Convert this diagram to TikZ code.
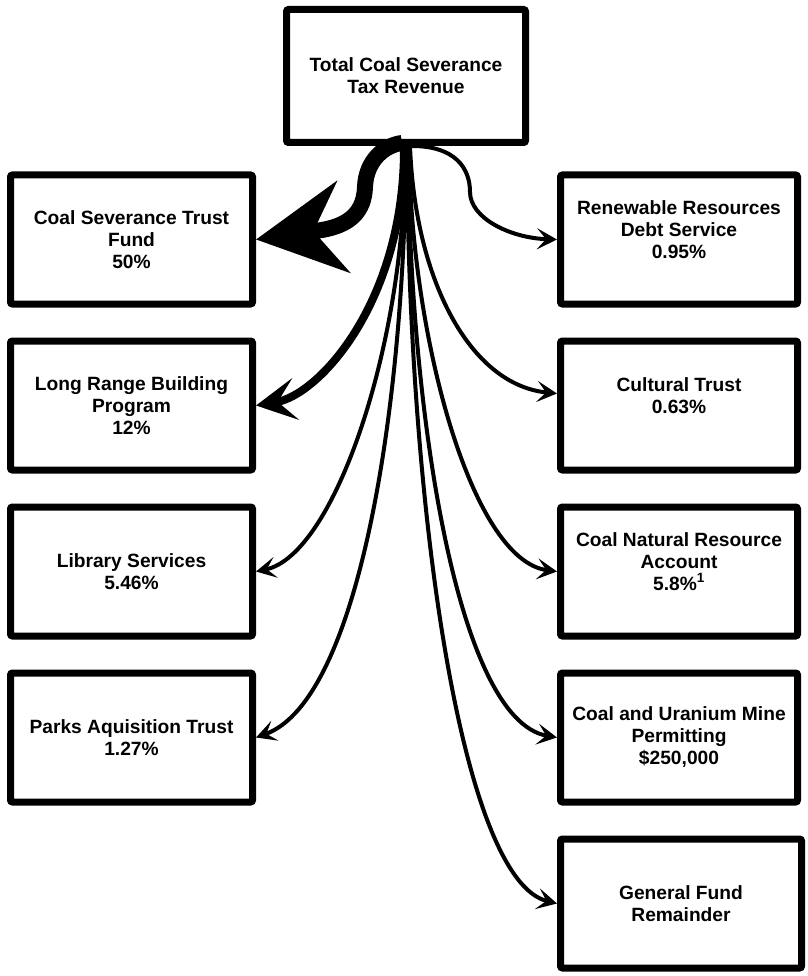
\documentclass[tikz,border=0pt]{standalone}
\usepackage{fontspec}
\setmainfont{Liberation Sans}
\usetikzlibrary{arrows.meta}
\begin{document}
\begin{tikzpicture}[x=1pt,y=-1pt,
  box/.style={draw, line width=7pt, rounded corners=2pt, minimum width=242pt,
    minimum height=129pt, inner sep=0pt, outer sep=3.5pt},
  rbox/.style={box, minimum width=237pt},
  boxtext/.style={font=\fontsize{19.2}{22}\selectfont\bfseries, align=center, inner sep=0pt},
  flow/.style={line width=4pt, -{Stealth[length=20pt,width=21pt,inset=9pt]}},
  midflow/.style={line width=8pt, -{Stealth[length=40pt,width=42pt,inset=18pt]}},
  bigflow/.style={line width=16pt, -{Stealth[length=88pt,width=92pt,inset=30pt]}}]
\useasboundingbox (0,0) rectangle (807,976);

% source box
\node[box, minimum width=239pt, minimum height=133pt] (src) at (406,76) {};
\node[boxtext] (srct) at (src.center) {Total Coal Severance\\Tax Revenue};

% left column
\node[box] (l1) at (131.5,239.5) {};
\node[boxtext] (l1t) at (l1.center) {Coal Severance Trust\\Fund\\50\%};
\node[box] (l2) at (131.5,405.5) {};
\node[boxtext] (l2t) at (l2.center) {Long Range Building\\Program\\12\%};
\node[box] (l3) at (131.5,571.5) {};
\node[boxtext] (l3t) at (l3.center) {Library Services\\5.46\%};
\node[box] (l4) at (131.5,737.5) {};
\node[boxtext] (l4t) at (l4.center) {Parks Aquisition Trust\\1.27\%};

% right column
\node[rbox] (r1) at (679,239.5) {};
\node[boxtext, yshift=10pt] (r1t) at (r1.center) {Renewable Resources\\Debt Service\\0.95\%};
\node[rbox] (r2) at (679,405.5) {};
\node[boxtext, yshift=10pt] (r2t) at (r2.center) {Cultural Trust\\0.63\%};
\node[rbox] (r3) at (679,571.5) {};
\node[boxtext, yshift=10pt] (r3t) at (r3.center) {Coal Natural Resource\\Account\\5.8\%\textsuperscript{1}};
\node[rbox] (r4) at (679,737.5) {};
\node[boxtext] (r4t) at (r4.center) {Coal and Uranium Mine\\Permitting\\\$250,000};
\node[rbox, minimum width=241pt] (r5) at (681,903.5) {};
\node[boxtext] (r5t) at (r5.center) {General Fund\\Remainder};

% distribution arrows
\draw[bigflow] ([xshift=-4pt,yshift=3pt]src.south) .. controls (385,145) and (366,160) .. (365,187)
  .. controls (364,212) and (350,225) .. (322,230) -- (l1.east);
\draw[midflow] ([xshift=-2pt]src.south) .. controls (405,300) and (320,395) .. (l2.east);
\draw[flow] ([xshift=-1pt]src.south) .. controls (407,340) and (335,555) .. (l3.east);
\draw[flow] (src.south) .. controls (405,400) and (360,700) .. (l4.east);
\draw[flow] ([xshift=1pt]src.south) .. controls (408,500) and (460,880) .. (r5.west);
\draw[flow] ([xshift=2pt]src.south) .. controls (409,400) and (455,720) .. (r4.west);
\draw[flow] ([xshift=3pt]src.south) .. controls (410,330) and (470,560) .. (r3.west);
\draw[flow] ([xshift=4pt]src.south) .. controls (415,280) and (470,385) .. ([yshift=12pt]r2.west);
\draw[flow] ([xshift=6pt]src.south) .. controls (455,146) and (470,168) .. (470,192)
  .. controls (470,218) and (510,238) .. (r1.west);
\end{tikzpicture}
\end{document}
